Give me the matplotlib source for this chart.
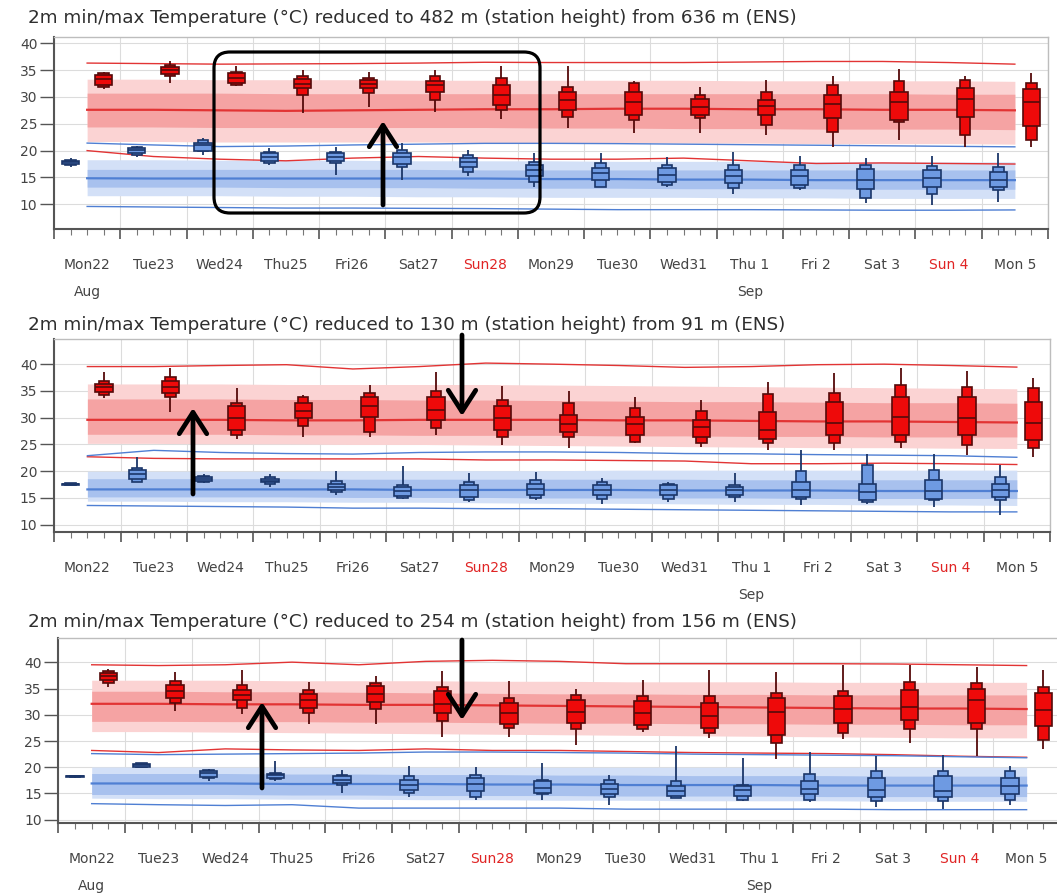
"""
Three stacked ENS meteogram panels: 2m min/max temperature boxes over climate bands.
"""
import matplotlib
matplotlib.use("Agg")
import matplotlib.pyplot as plt
import numpy as np
from matplotlib.patches import FancyBboxPatch
from matplotlib.text import Annotation
from matplotlib.transforms import IdentityTransform

DAY_LABELS = ["Mon22", "Tue23", "Wed24", "Thu25", "Fri26", "Sat27", "Sun28", "Mon29",
              "Tue30", "Wed31", "Thu 1", "Fri 2", "Sat 3", "Sun 4", "Mon 5"]
SUNDAYS = {"Sun28", "Sun 4"}

TITLES = [
    "2m min/max Temperature (°C) reduced to 482 m (station height) from 636 m (ENS)",
    "2m min/max Temperature (°C) reduced to 130 m (station height) from 91 m (ENS)",
    "2m min/max Temperature (°C) reduced to 254 m (station height) from 156 m (ENS)",
]
YLIMS = [(5.4, 41.1), (8.7, 44.7), (9.3, 44.6)]
MONTHS = [[(0, "Aug"), (10, "Sep")], [(10, "Sep")], [(0, "Aug"), (10, "Sep")]]

# ---- climate (one value per day at noon) ----
# panel 1
P1_RED_TOP = [36.3, 36.2, 36.1, 36.15, 36.2, 36.3, 36.45, 36.4, 36.4, 36.4, 36.5, 36.6, 36.6, 36.4, 36.1]
P1_RED_Q90 = [33.3, 33.3, 33.2, 33.2, 33.2, 33.1, 33.1, 33.1, 33.1, 33.1, 33.0, 33.0, 33.0, 33.0, 32.9]
P1_RED_Q75 = [30.7, 30.7, 30.7, 30.6, 30.6, 30.6, 30.6, 30.6, 30.6, 30.6, 30.6, 30.6, 30.6, 30.5, 30.5]
P1_RED_MED = [27.6, 27.6, 27.5, 27.4, 27.5, 27.6, 27.7, 27.7, 27.8, 27.8, 27.7, 27.7, 27.6, 27.6, 27.5]
P1_RED_Q25 = [24.4, 24.4, 24.3, 24.3, 24.3, 24.3, 24.3, 24.2, 24.2, 24.1, 24.1, 24.0, 24.0, 24.0, 23.9]
P1_RED_Q10 = [21.7, 21.7, 21.6, 21.6, 21.6, 21.6, 21.5, 21.5, 21.5, 21.4, 21.4, 21.3, 21.3, 21.3, 21.2]
P1_RED_LOW = [20.0, 18.9, 18.4, 18.1, 18.6, 18.9, 18.6, 18.4, 18.4, 18.6, 18.1, 17.6, 17.7, 17.6, 17.5]
P1_BLUE_TOP = [21.4, 21.05, 20.75, 20.85, 21.05, 21.2, 21.35, 21.35, 21.3, 21.2, 21.1, 21.0, 20.9, 20.8, 20.7]
P1_BLUE_Q90 = [18.3, 18.3, 18.2, 18.2, 18.2, 18.1, 18.1, 18.1, 18.0, 18.0, 18.0, 17.9, 17.9, 17.9, 17.9]
P1_BLUE_Q75 = [16.5, 16.5, 16.5, 16.5, 16.5, 16.5, 16.4, 16.4, 16.4, 16.4, 16.4, 16.4, 16.4, 16.4, 16.4]
P1_BLUE_MED = [14.85, 14.8, 14.8, 14.8, 14.8, 14.8, 14.8, 14.7, 14.7, 14.6, 14.6, 14.5, 14.5, 14.5, 14.5]
P1_BLUE_Q25 = [13.2, 13.2, 13.2, 13.1, 13.1, 13.1, 13.0, 13.0, 13.0, 12.9, 12.9, 12.9, 12.8, 12.8, 12.8]
P1_BLUE_Q10 = [11.6, 11.6, 11.6, 11.5, 11.5, 11.4, 11.4, 11.3, 11.3, 11.3, 11.2, 11.2, 11.1, 11.1, 11.1]
P1_BLUE_LOW = [9.6, 9.5, 9.4, 9.3, 9.3, 9.25, 9.2, 9.1, 9.0, 9.0, 9.0, 8.95, 8.9, 8.9, 8.95]
# panel 2
P2_RED_TOP = [39.55, 39.55, 39.75, 39.9, 39.1, 39.55, 40.2, 40.0, 39.75, 39.4, 39.55, 39.9, 40.0, 39.75, 39.45]
P2_RED_Q90 = [36.3, 36.3, 36.3, 36.2, 36.2, 36.2, 36.2, 36.1, 36.0, 35.9, 35.8, 35.7, 35.6, 35.5, 35.4]
P2_RED_Q75 = [33.5, 33.5, 33.5, 33.4, 33.4, 33.3, 33.3, 33.2, 33.1, 33.0, 33.0, 32.9, 32.8, 32.8, 32.7]
P2_RED_MED = [29.6, 29.6, 29.6, 29.5, 29.5, 29.6, 29.6, 29.6, 29.5, 29.5, 29.4, 29.3, 29.3, 29.2, 29.1]
P2_RED_Q25 = [26.9, 26.9, 26.9, 26.8, 26.8, 26.7, 26.7, 26.7, 26.6, 26.6, 26.5, 26.5, 26.4, 26.4, 26.4]
P2_RED_Q10 = [25.2, 25.2, 25.1, 25.1, 25.0, 25.0, 24.9, 24.8, 24.7, 24.6, 24.5, 24.4, 24.4, 24.3, 24.25]
P2_RED_LOW = [22.7, 22.4, 22.3, 22.3, 22.3, 22.3, 22.1, 22.1, 22.0, 21.9, 21.4, 21.4, 21.5, 21.4, 21.25]
P2_BLUE_TOP = [22.9, 23.9, 23.5, 23.3, 23.2, 23.5, 23.6, 23.6, 23.5, 23.3, 23.25, 23.1, 23.0, 22.9, 22.6]
P2_BLUE_Q90 = [20.0, 20.0, 20.0, 20.0, 20.1, 20.1, 20.1, 20.1, 20.2, 20.2, 20.2, 20.2, 20.2, 20.2, 20.2]
P2_BLUE_Q75 = [18.6, 18.6, 18.6, 18.6, 18.5, 18.5, 18.5, 18.5, 18.5, 18.5, 18.4, 18.4, 18.4, 18.4, 18.4]
P2_BLUE_MED = [16.6, 16.6, 16.6, 16.6, 16.6, 16.5, 16.5, 16.5, 16.5, 16.4, 16.4, 16.4, 16.3, 16.3, 16.3]
P2_BLUE_Q25 = [15.2, 15.2, 15.2, 15.2, 15.1, 15.1, 15.1, 15.0, 15.0, 15.0, 15.0, 14.9, 14.9, 14.9, 14.9]
P2_BLUE_Q10 = [14.4, 14.4, 14.3, 14.3, 14.2, 14.2, 14.1, 14.0, 14.0, 13.9, 13.8, 13.8, 13.7, 13.7, 13.6]
P2_BLUE_LOW = [13.6, 13.5, 13.4, 13.3, 13.1, 13.1, 13.0, 13.0, 12.9, 12.8, 12.7, 12.6, 12.5, 12.4, 12.4]
# panel 3
P3_RED_TOP = [39.55, 39.4, 39.55, 40.05, 39.55, 40.2, 40.4, 40.2, 39.75, 39.75, 39.75, 39.75, 39.7, 39.55, 39.4]
P3_RED_Q90 = [36.6, 36.6, 36.6, 36.5, 36.5, 36.5, 36.4, 36.4, 36.3, 36.3, 36.3, 36.2, 36.2, 36.2, 36.2]
P3_RED_Q75 = [34.5, 34.5, 34.4, 34.4, 34.3, 34.2, 34.1, 34.0, 34.0, 33.9, 33.9, 33.8, 33.8, 33.8, 33.8]
P3_RED_MED = [32.1, 32.1, 32.0, 32.0, 31.9, 31.9, 31.8, 31.7, 31.6, 31.5, 31.4, 31.3, 31.2, 31.2, 31.1]
P3_RED_Q25 = [28.75, 28.75, 28.7, 28.7, 28.6, 28.6, 28.5, 28.4, 28.4, 28.3, 28.3, 28.2, 28.2, 28.1, 28.1]
P3_RED_Q10 = [26.8, 26.8, 26.7, 26.6, 26.5, 26.4, 26.3, 26.2, 26.1, 26.0, 25.9, 25.8, 25.7, 25.6, 25.6]
P3_RED_LOW = [23.2, 22.8, 23.5, 23.3, 23.2, 23.5, 23.2, 23.2, 23.0, 22.8, 22.7, 22.6, 22.4, 22.1, 21.9]
P3_BLUE_TOP = [22.6, 22.4, 22.5, 22.6, 22.7, 22.9, 22.9, 22.8, 22.7, 22.5, 22.4, 22.3, 22.2, 22.0, 21.8]
P3_BLUE_Q90 = [20.05, 20.05, 20.0, 20.0, 20.0, 20.0, 20.0, 20.0, 20.0, 20.0, 20.0, 20.0, 20.0, 20.0, 20.0]
P3_BLUE_Q75 = [18.8, 18.8, 18.8, 18.7, 18.7, 18.6, 18.6, 18.5, 18.5, 18.4, 18.4, 18.4, 18.3, 18.3, 18.3]
P3_BLUE_MED = [16.9, 16.9, 16.9, 16.8, 16.8, 16.8, 16.7, 16.7, 16.6, 16.6, 16.6, 16.5, 16.5, 16.5, 16.5]
P3_BLUE_Q25 = [14.8, 14.8, 14.8, 14.7, 14.7, 14.6, 14.6, 14.6, 14.5, 14.5, 14.5, 14.4, 14.4, 14.4, 14.4]
P3_BLUE_Q10 = [14.1, 14.0, 14.0, 13.9, 13.9, 13.8, 13.8, 13.7, 13.7, 13.6, 13.6, 13.6, 13.5, 13.5, 13.5]
P3_BLUE_LOW = [13.05, 12.85, 12.7, 12.85, 12.2, 12.2, 12.2, 12.2, 12.0, 12.0, 12.0, 12.0, 11.9, 11.9, 11.9]

# ---- ensemble boxes: (whisker lo, p10, p25, median, p75, p90, whisker hi) ----
P1_TMAX = [(31.4, 31.8, 32.2, 33.3, 34.1, 34.4, 34.7), (32.5, 33.9, 34.3, 35.0, 35.6, 36.0, 36.6),
           (32.0, 32.2, 32.5, 33.5, 34.4, 34.7, 35.8), (27.0, 30.4, 31.6, 32.4, 33.3, 33.8, 35.0),
           (28.1, 30.7, 31.6, 32.4, 33.2, 33.5, 34.7), (27.1, 29.4, 31.0, 32.2, 33.0, 33.8, 35.0),
           (25.8, 27.6, 28.5, 30.4, 32.2, 33.5, 35.7), (24.2, 26.3, 27.6, 29.4, 31.0, 31.9, 35.8),
           (23.2, 25.7, 26.6, 29.1, 31.0, 32.5, 33.0), (23.2, 26.0, 26.6, 28.1, 29.7, 30.4, 31.9),
           (22.9, 24.8, 26.6, 28.3, 29.4, 31.0, 33.2), (20.7, 23.5, 26.0, 28.7, 30.4, 32.2, 33.8),
           (22.0, 25.4, 25.7, 29.1, 31.0, 32.9, 35.2), (20.7, 22.9, 26.3, 29.7, 31.6, 33.2, 33.9),
           (20.7, 22.0, 24.5, 29.1, 31.4, 32.5, 34.4)]
P1_TMIN = [(16.9, 17.3, 17.5, 17.8, 18.1, 18.3, 18.6), (18.9, 19.2, 19.5, 20.1, 20.4, 20.6, 20.9),
           (19.2, 19.9, 20.0, 21.0, 21.5, 21.9, 22.3), (17.3, 17.7, 18.1, 18.9, 19.5, 19.8, 20.4),
           (15.5, 17.7, 18.1, 18.9, 19.5, 19.8, 20.6), (14.5, 17.0, 17.5, 18.8, 19.6, 20.1, 21.5),
           (15.2, 16.1, 16.9, 17.8, 18.6, 19.2, 20.1), (13.3, 14.2, 15.2, 16.4, 17.3, 17.9, 19.6),
           (13.3, 13.3, 14.5, 15.8, 16.7, 17.6, 19.6), (13.3, 13.6, 14.2, 15.5, 16.7, 17.3, 18.9),
           (12.0, 13.0, 13.9, 15.2, 16.4, 17.3, 19.8), (12.7, 13.0, 13.6, 15.2, 16.4, 17.3, 19.0),
           (10.2, 11.1, 12.8, 14.5, 16.5, 17.3, 18.6), (9.9, 12.0, 13.3, 14.9, 16.4, 17.1, 19.0),
           (10.5, 12.7, 13.3, 14.5, 16.1, 17.0, 19.5)]
P2_TMAX = [(33.6, 34.3, 34.8, 35.7, 36.3, 36.8, 38.5), (31.0, 33.9, 34.6, 35.8, 36.8, 37.6, 39.2),
           (26.1, 26.75, 27.7, 29.9, 32.1, 32.7, 35.5), (26.4, 28.5, 29.9, 31.25, 32.7, 33.9, 34.25),
           (26.4, 27.4, 30.2, 32.1, 33.9, 34.6, 36.1), (26.75, 28.0, 29.6, 31.4, 33.9, 34.9, 38.6),
           (24.9, 26.4, 27.7, 29.9, 32.1, 33.3, 36.0), (24.4, 26.4, 27.4, 28.9, 30.5, 32.7, 34.9),
           (25.2, 25.5, 26.75, 28.75, 30.2, 31.75, 33.9), (24.6, 25.2, 26.4, 28.3, 29.6, 31.25, 33.3),
           (23.9, 25.2, 26.1, 27.7, 31.1, 34.4, 36.75), (23.9, 25.2, 26.75, 29.1, 33.0, 34.6, 38.3),
           (24.25, 25.5, 26.75, 30.2, 33.9, 36.1, 39.25), (23.0, 24.9, 26.75, 30.0, 33.9, 35.8, 38.75),
           (22.7, 24.25, 25.8, 29.1, 33.0, 35.5, 37.4)]
P2_TMIN = [(17.4, 17.45, 17.5, 17.6, 17.7, 17.75, 17.8), (18.0, 18.0, 18.5, 19.4, 20.2, 20.6, 22.7),
           (17.8, 17.9, 18.1, 18.5, 18.9, 19.1, 19.4), (17.1, 17.7, 17.9, 18.25, 18.6, 18.9, 19.5),
           (15.6, 16.1, 16.4, 17.1, 17.7, 18.1, 20.0), (14.9, 15.0, 15.4, 16.25, 17.1, 17.5, 20.9),
           (14.25, 14.6, 15.2, 16.4, 17.5, 18.0, 19.7), (14.6, 15.0, 15.6, 16.75, 17.7, 18.3, 19.9),
           (13.9, 14.9, 15.5, 16.4, 17.5, 18.0, 18.75), (14.25, 14.9, 15.6, 16.4, 17.4, 17.7, 18.0),
           (14.25, 15.2, 15.5, 16.4, 17.1, 17.4, 19.6), (13.6, 14.9, 15.2, 16.4, 18.0, 20.0, 23.9),
           (13.9, 14.25, 14.6, 16.1, 17.7, 21.25, 23.3), (13.3, 14.6, 14.9, 16.25, 18.3, 20.2, 23.3),
           (11.75, 14.6, 15.2, 16.4, 17.7, 18.9, 21.1)]
P3_TMAX = [(35.3, 36.1, 36.57, 37.33, 37.97, 38.3, 38.73), (30.8, 32.25, 33.2, 34.47, 35.75, 36.4, 38.1),
           (30.2, 31.3, 32.75, 33.83, 34.8, 35.75, 38.6), (28.3, 30.3, 31.3, 32.9, 34.0, 34.8, 36.2),
           (28.3, 31.1, 32.4, 34.0, 35.55, 36.1, 37.4), (25.76, 28.75, 30.3, 32.1, 34.47, 35.4, 38.3),
           (25.76, 27.5, 28.3, 30.3, 32.25, 33.2, 36.4), (24.3, 27.3, 28.4, 30.5, 32.9, 33.8, 34.9),
           (26.8, 27.2, 28.1, 30.3, 32.6, 33.5, 36.6), (25.6, 26.5, 27.5, 29.7, 32.25, 33.5, 38.6),
           (21.6, 24.6, 26.2, 30.5, 33.2, 34.2, 38.1), (25.3, 26.5, 28.4, 31.1, 33.5, 34.5, 39.6),
           (24.6, 27.3, 29.1, 31.5, 34.8, 36.2, 39.6), (22.2, 27.2, 28.4, 32.8, 34.9, 36.06, 39.2),
           (23.5, 25.25, 27.8, 30.97, 34.1, 35.4, 38.6)]
P3_TMIN = [(18.0, 18.1, 18.15, 18.26, 18.35, 18.4, 18.5), (20.0, 20.05, 20.1, 20.5, 20.7, 20.75, 20.8),
           (17.3, 17.9, 18.2, 18.9, 19.3, 19.5, 19.66), (17.3, 17.75, 18.0, 18.45, 18.7, 18.9, 21.1),
           (15.08, 16.67, 17.0, 17.6, 18.26, 18.6, 19.5), (14.3, 15.08, 15.7, 16.67, 17.6, 18.26, 20.17),
           (13.7, 14.4, 15.4, 16.86, 17.9, 18.6, 20.0), (13.8, 14.8, 15.1, 16.0, 17.3, 17.6, 20.8),
           (12.85, 14.4, 14.95, 15.85, 16.86, 17.6, 18.6), (14.1, 14.1, 14.6, 15.4, 16.5, 17.3, 24.1),
           (13.5, 13.8, 14.6, 15.6, 16.35, 16.67, 21.75), (13.3, 13.8, 14.8, 15.85, 17.3, 18.8, 23.0),
           (12.5, 13.5, 14.4, 15.6, 17.9, 19.2, 22.2), (12.0, 13.5, 14.4, 15.4, 18.26, 19.2, 22.4),
           (12.85, 13.8, 14.8, 16.35, 17.9, 19.2, 20.17)]

PANELS = [
    (P1_RED_TOP, P1_RED_Q90, P1_RED_Q75, P1_RED_MED, P1_RED_Q25, P1_RED_Q10, P1_RED_LOW,
     P1_BLUE_TOP, P1_BLUE_Q90, P1_BLUE_Q75, P1_BLUE_MED, P1_BLUE_Q25, P1_BLUE_Q10, P1_BLUE_LOW,
     P1_TMIN, P1_TMAX),
    (P2_RED_TOP, P2_RED_Q90, P2_RED_Q75, P2_RED_MED, P2_RED_Q25, P2_RED_Q10, P2_RED_LOW,
     P2_BLUE_TOP, P2_BLUE_Q90, P2_BLUE_Q75, P2_BLUE_MED, P2_BLUE_Q25, P2_BLUE_Q10, P2_BLUE_LOW,
     P2_TMIN, P2_TMAX),
    (P3_RED_TOP, P3_RED_Q90, P3_RED_Q75, P3_RED_MED, P3_RED_Q25, P3_RED_Q10, P3_RED_LOW,
     P3_BLUE_TOP, P3_BLUE_Q90, P3_BLUE_Q75, P3_BLUE_MED, P3_BLUE_Q25, P3_BLUE_Q10, P3_BLUE_LOW,
     P3_TMIN, P3_TMAX),
]

# axes rectangles in pixels (left, top, right, bottom) of the 1057x893 canvas
AX_PX = [(54, 37.3, 1048, 229), (54.2, 339, 1050, 531.7), (58.3, 638.3, 1060, 823.3)]
TITLE_Y = [18, 325, 622]

W, H = 1057, 893
RED_LIGHT, RED_MID, RED_LINE = "#fbd3d3", "#f5a3a3", "#e23434"
BLUE_LIGHT, BLUE_MID, BLUE_LINE = "#d3e0f7", "#a8c1ee", "#4f7fd3"
MAX_FILL, MAX_EDGE = "#ee0a0a", "#550a0a"
MIN_FILL, MIN_EDGE = "#6e9ae2", "#1b3669"


def draw_boxes(ax, xs, stats, fill, edge):
    st = np.array(stats)
    ax.vlines(xs, st[:, 0], st[:, 6], color=edge, lw=1.3, zorder=4)
    ax.bar(xs, st[:, 5] - st[:, 1], bottom=st[:, 1], width=0.16,
           color=fill, edgecolor=edge, linewidth=1.2, zorder=5)
    ax.bar(xs, st[:, 4] - st[:, 2], bottom=st[:, 2], width=0.26,
           color=fill, edgecolor=edge, linewidth=1.2, zorder=6)
    ax.hlines(st[:, 3], xs - 0.13, xs + 0.13, color=edge, lw=1.2, zorder=7)


fig = plt.figure(figsize=(W / 100, H / 100), dpi=100)
days = np.arange(len(DAY_LABELS))
noon = days + 0.5

for i, panel in enumerate(PANELS):
    (r_top, r90, r75, rmed, r25, r10, r_low,
     b_top, b90, b75, bmed, b25, b10, b_low, tmin, tmax) = panel
    l, t, r, b = AX_PX[i]
    ax = fig.add_axes([l / W, 1 - b / H, (r - l) / W, (b - t) / H])

    # climate bands
    ax.fill_between(noon, r10, r90, color=RED_LIGHT, lw=0, zorder=1)
    ax.fill_between(noon, r25, r75, color=RED_MID, lw=0, zorder=1)
    ax.fill_between(noon, b10, b90, color=BLUE_LIGHT, lw=0, zorder=1)
    ax.fill_between(noon, b25, b75, color=BLUE_MID, lw=0, zorder=1)
    ax.plot(noon, rmed, color=RED_LINE, lw=1.6, zorder=2)
    ax.plot(noon, bmed, color=BLUE_LINE, lw=1.6, zorder=2)
    ax.plot(noon, r_top, color=RED_LINE, lw=1.0, zorder=2)
    ax.plot(noon, r_low, color=RED_LINE, lw=1.0, zorder=2)
    ax.plot(noon, b_top, color=BLUE_LINE, lw=1.0, zorder=2)
    ax.plot(noon, b_low, color=BLUE_LINE, lw=1.0, zorder=2)

    # ensemble boxes: min in the morning, max in the evening
    draw_boxes(ax, days + 0.25, tmin, MIN_FILL, MIN_EDGE)
    draw_boxes(ax, days + 0.75, tmax, MAX_FILL, MAX_EDGE)

    ax.set_xlim(0, len(DAY_LABELS))
    ax.set_ylim(*YLIMS[i])
    ax.set_yticks(np.arange(10, 41, 5))
    ax.set_xticks(np.arange(0, len(DAY_LABELS) + 1))
    ax.set_xticks(np.arange(0, len(DAY_LABELS) + 0.01, 0.25), minor=True)
    ax.set_xticklabels([])
    ax.tick_params(axis="x", which="major", direction="out", length=7, width=1.2, color="#555555")
    ax.tick_params(axis="x", which="minor", direction="out", length=4, width=0.8, color="#777777")
    ax.tick_params(axis="y", direction="out", length=10, width=1.0, color="#555555",
                   labelsize=10, labelcolor="#444444", pad=2)
    ax.grid(True, which="major", color="#dcdcdc", lw=0.8, zorder=0)
    ax.set_axisbelow(True)
    for side in ("left", "bottom"):
        ax.spines[side].set_color("#555555")
        ax.spines[side].set_linewidth(1.5)
    for side in ("top", "right"):
        ax.spines[side].set_color("#bdbdbd")
        ax.spines[side].set_linewidth(1.0)

    for d, lab in enumerate(DAY_LABELS):
        ax.annotate(lab, xy=(d + 0.5, 0), xycoords=("data", "axes fraction"),
                    xytext=(0, -36), textcoords="offset pixels", ha="center", va="center",
                    fontsize=10, color="#e02424" if lab in SUNDAYS else "#444444")
    for d, mon in MONTHS[i]:
        ax.annotate(mon, xy=(d + 0.5, 0), xycoords=("data", "axes fraction"),
                    xytext=(0, -63), textcoords="offset pixels", ha="center", va="center",
                    fontsize=10, color="#444444")

    fig.text(28 / W, 1 - TITLE_Y[i] / H, TITLES[i], ha="left", va="center",
             fontsize=13.2, color="#2e2e2e")

# hand-drawn highlight marks (pixel positions on the canvas)
ARROWS = [((383, 205), (383, 121)),
          ((193, 494), (193, 408)), ((462, 335), (462, 416)),
          ((262, 788), (262, 702)), ((462, 640), (462, 720))]
for (x0, y0), (x1, y1) in ARROWS:
    fig.add_artist(Annotation(
        "", xy=(x1, H - y1), xytext=(x0, H - y0), xycoords="figure pixels",
        textcoords="figure pixels",
        arrowprops=dict(arrowstyle="->,head_length=0.7,head_width=0.45", lw=3.4,
                        color="black", shrinkA=0, shrinkB=0, mutation_scale=22)))

box = FancyBboxPatch((214, H - 213), 326, 161, boxstyle="round,pad=0,rounding_size=16",
                     transform=IdentityTransform(), fill=False, edgecolor="black", lw=2.3)
fig.add_artist(box)

fig.savefig("out.png", dpi=100, facecolor="white")
